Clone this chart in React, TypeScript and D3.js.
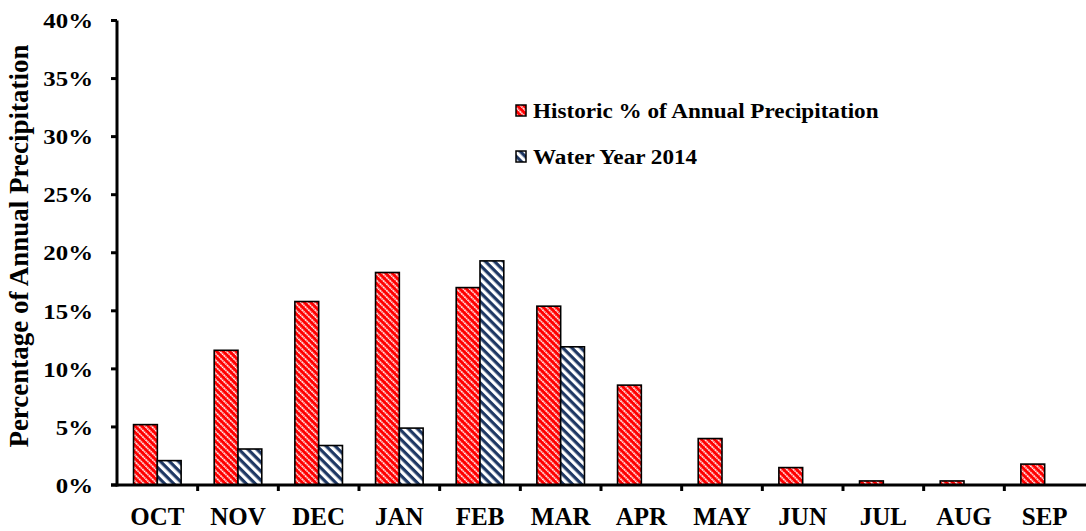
import React from "react";
import * as d3 from "d3";

const months = ["OCT", "NOV", "DEC", "JAN", "FEB", "MAR", "APR", "MAY", "JUN", "JUL", "AUG", "SEP"];
const historic = [5.2, 11.6, 15.8, 18.3, 17.0, 15.4, 8.6, 4.0, 1.5, 0.35, 0.35, 1.8];
const waterYear2014: (number | null)[] = [2.1, 3.1, 3.4, 4.9, 19.3, 11.9, null, null, null, null, null, null];
const yTicks = [0, 5, 10, 15, 20, 25, 30, 35, 40];
const seriesNames = ["Historic % of Annual Precipitation", "Water Year 2014"];

const W = 1086;
const H = 531;
const font = "'Liberation Serif', 'Times New Roman', serif";
const stretch = 1.13;

export default function App() {
  const x0 = d3
    .scaleBand<string>()
    .domain(months)
    .range([117, 1085])
    .paddingInner(0.41)
    .paddingOuter(0.205);
  const x1 = d3.scaleBand<string>().domain(["h", "w"]).range([0, x0.bandwidth()]);
  const y = d3.scaleLinear().domain([0, 40]).range([485, 20.5]);
  const step = x0.step();
  const left = 117;
  const base = y(0);

  return (
    <svg width={W} height={H} style={{ position: "absolute", left: 0, top: 0, background: "#fff" }}>
      <defs>
        <pattern id="redHatch" patternUnits="userSpaceOnUse" width="4.6" height="4.6" patternTransform="rotate(45)">
          <rect width="4.6" height="4.6" fill="#ff0000" />
          <line x1="0" y1="1" x2="4.6" y2="1" stroke="#ffffff" strokeWidth="1.5" strokeDasharray="1.7 0.6" />
        </pattern>
        <pattern id="blueHatch" patternUnits="userSpaceOnUse" width="6.4" height="6.4" patternTransform="rotate(45)">
          <rect width="6.4" height="6.4" fill="#ffffff" />
          <rect y="0" width="6.4" height="3.2" fill="#1f3864" />
        </pattern>
      </defs>

      {/* bars */}
      {months.map((m, i) => {
        const gx = x0(m)!;
        const hv = historic[i];
        const wv = waterYear2014[i];
        return (
          <g key={m}>
            <rect
              x={gx + x1("h")!}
              y={y(hv)}
              width={x1.bandwidth()}
              height={base - y(hv)}
              fill="url(#redHatch)"
              stroke="#000"
              strokeWidth={1.6}
            />
            {wv != null && (
              <rect
                x={gx + x1("w")!}
                y={y(wv)}
                width={x1.bandwidth()}
                height={base - y(wv)}
                fill="url(#blueHatch)"
                stroke="#000"
                strokeWidth={1.6}
              />
            )}
          </g>
        );
      })}

      {/* y axis */}
      <line x1={left} y1={y(40)} x2={left} y2={base + 1.5} stroke="#000" strokeWidth={3} />
      {yTicks.map((t) => (
        <g key={t}>
          <line x1={left - 6} y1={y(t)} x2={left} y2={y(t)} stroke="#000" strokeWidth={3} />
          <text
            transform={`translate(${93}, ${y(t)}) scale(${stretch}, 1)`}
            dy="0.35em"
            textAnchor="end"
            fontFamily={font}
            fontWeight="bold"
            fontSize={22}
            fill="#000"
          >
            {t}%
          </text>
        </g>
      ))}

      {/* x axis */}
      <line x1={left - 6} y1={base} x2={1086} y2={base} stroke="#000" strokeWidth={3} />
      {months.map((m, i) => (
        <g key={m}>
          {i > 0 && (
            <line
              x1={left + step * i}
              y1={base}
              x2={left + step * i}
              y2={base + 6}
              stroke="#000"
              strokeWidth={3}
            />
          )}
          <text
            x={x0(m)! + x0.bandwidth() / 2}
            y={525}
            textAnchor="middle"
            fontFamily={font}
            fontWeight="bold"
            fontSize={25}
            fill="#000"
          >
            {m}
          </text>
        </g>
      ))}

      {/* y axis title */}
      <text
        transform={`translate(28, 246) rotate(-90)`}
        textAnchor="middle"
        fontFamily={font}
        fontWeight="bold"
        fontSize={27}
        fill="#000"
      >
        Percentage of Annual Precipitation
      </text>

      {/* legend */}
      {seriesNames.map((name, i) => {
        const ty = 118 + i * 46;
        return (
          <g key={name}>
            <rect
              x={516}
              y={ty - 13}
              width={10}
              height={11}
              fill={i === 0 ? "url(#redHatch)" : "url(#blueHatch)"}
              stroke="#000"
              strokeWidth={1.5}
            />
            <text
              transform={`translate(533, ${ty}) scale(${stretch}, 1)`}
              fontFamily={font}
              fontWeight="bold"
              fontSize={20.5}
              fill="#000"
            >
              {name}
            </text>
          </g>
        );
      })}
    </svg>
  );
}
